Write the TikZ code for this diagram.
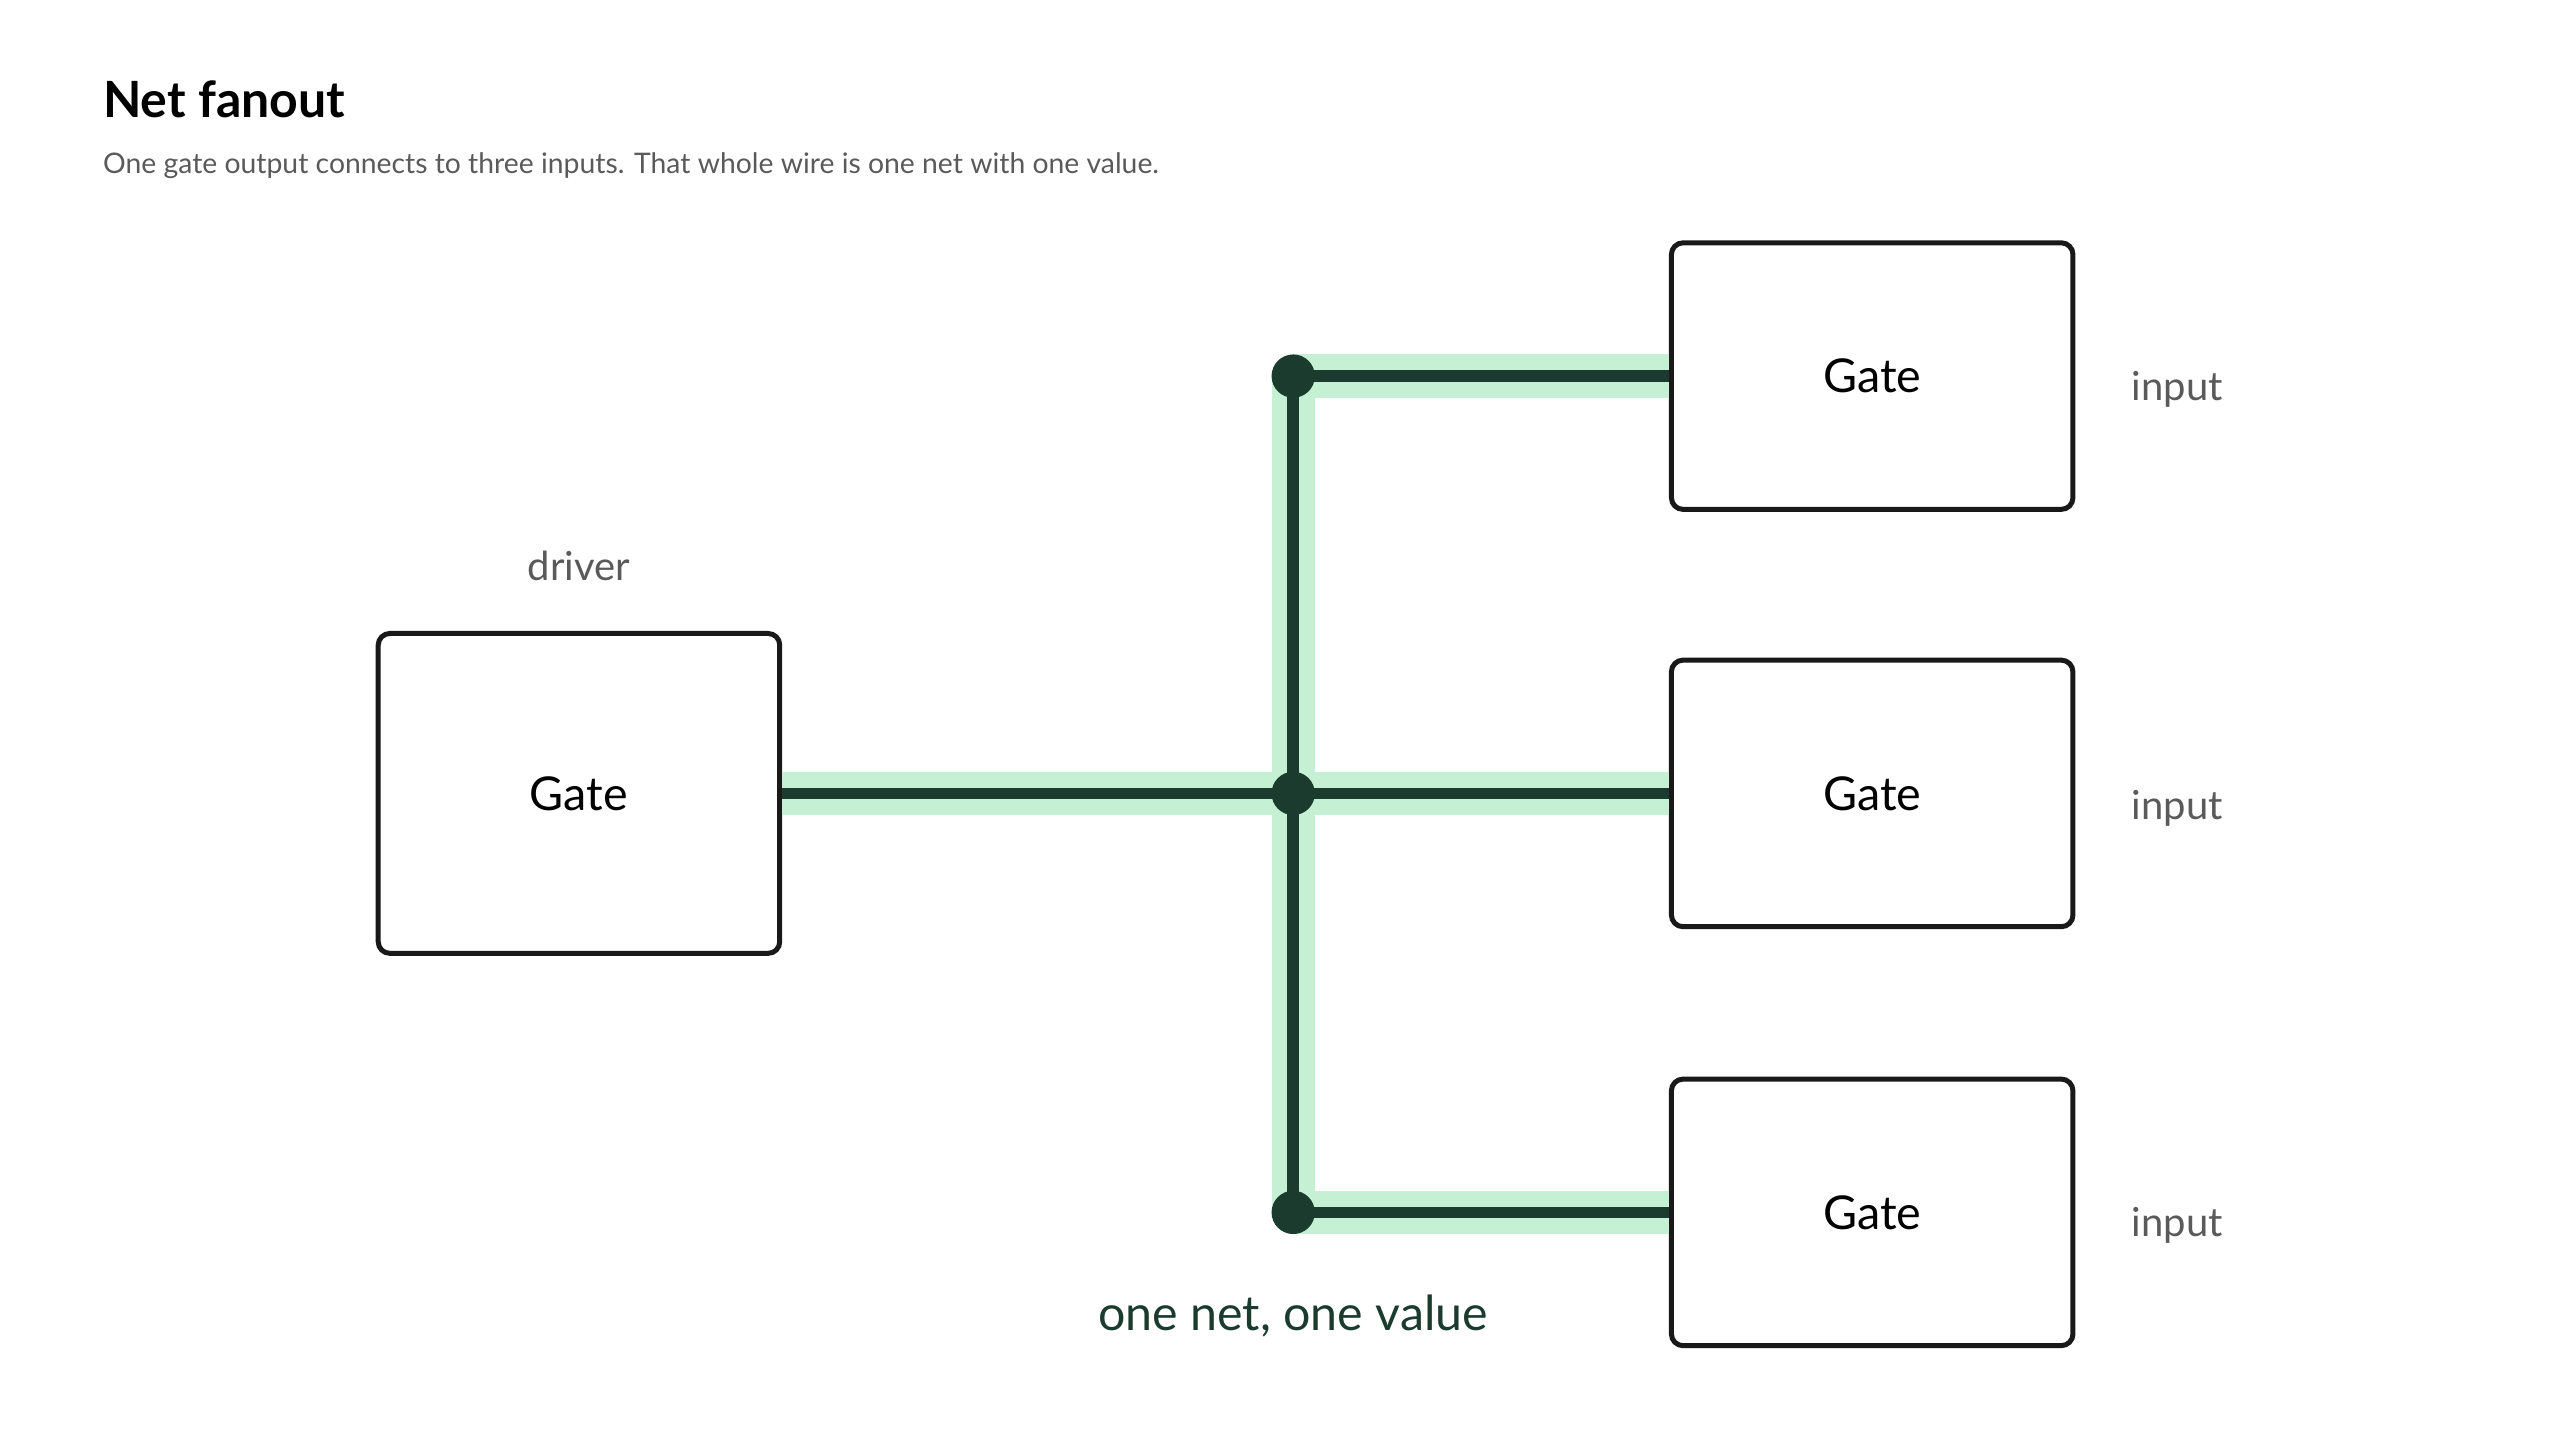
\documentclass[tikz,border=0pt]{standalone}
\usepackage{fontspec}
\setmainfont{Lato}
\definecolor{hl}{HTML}{C6F0D4}
\definecolor{wire}{HTML}{1B3B2F}
\definecolor{txtgray}{HTML}{5A5A5A}
\begin{document}
\begin{tikzpicture}[x=0.99pt,y=-0.99pt,
  gate/.style={draw=black!90,line width=3pt,rounded corners=7pt,minimum width=241pt,minimum height=160pt,font=\fontsize{28}{32}\selectfont},
  glow/.style={hl,line width=26pt},
  wr/.style={wire,line width=7pt},
  dotn/.style={circle,fill=wire,inner sep=0pt,minimum size=26pt},
  lbl/.style={text=txtgray,font=\fontsize{24}{28}\selectfont}]
\useasboundingbox (0,0) rectangle (1552,873);
\node[anchor=base west,font=\fontsize{30}{34}\selectfont\bfseries] (title) at (59,71) {Net fanout};
\node[anchor=base west,text=txtgray,font=\fontsize{17}{20}\selectfont] (sub) at (59,105) {One gate output connects to three inputs. That whole wire is one net with one value.};
\coordinate (jt) at (784,228);
\coordinate (jm) at (784,481);
\coordinate (jb) at (784,735);
\node[gate,minimum height=192pt] (drv) at (351,481) {Gate};
\node[gate] (g1) at (1135,228) {Gate};
\node[gate] (g2) at (1135,481) {Gate};
\node[gate] (g3) at (1135,735) {Gate};
\draw[glow] (drv.east) -- (g2.west);
\draw[glow] (jt) -- (jb);
\draw[glow] (jt) -- (g1.west);
\draw[glow] (jb) -- (g3.west);
\draw[wr] (drv.east) -- (g2.west);
\draw[wr] (jt) -- (jb);
\draw[wr] (jt) -- (g1.west);
\draw[wr] (jb) -- (g3.west);
\node[dotn] (d1) at (jt) {};
\node[dotn] (d2) at (jm) {};
\node[dotn] (d3) at (jb) {};
\node[lbl] (ldrv) at (351,343) {driver};
\node[lbl] (l1) at (1320,236) {input};
\node[lbl] (l2) at (1320,490) {input};
\node[lbl] (l3) at (1320,743) {input};
\node[text=wire,font=\fontsize{29}{33}\selectfont] (net) at (784,798) {one net, one value};
\end{tikzpicture}
\end{document}
